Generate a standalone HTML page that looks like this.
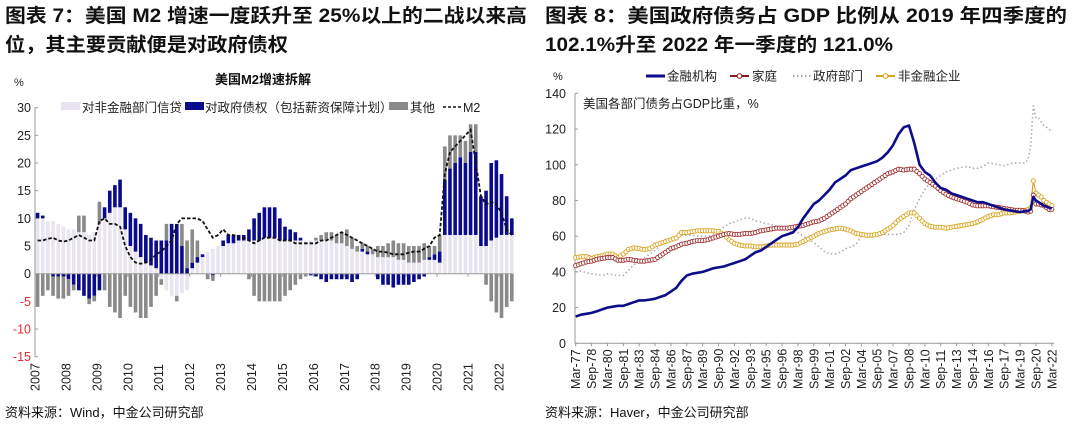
<!DOCTYPE html>
<html><head><meta charset="utf-8">
<style>
html,body{margin:0;padding:0;background:#fff;}
svg{display:block;font-family:"Liberation Sans","Noto Sans CJK SC",sans-serif;}
</style></head>
<body>
<svg id="c" width="1080" height="425" viewBox="0 0 1080 425" xmlns="http://www.w3.org/2000/svg">
<g font-weight="bold" font-size="19" fill="#111">
<text x="5" y="22" textLength="522" lengthAdjust="spacingAndGlyphs">图表 7：美国 M2 增速一度跃升至 25%以上的二战以来高</text>
<text x="5" y="51" textLength="283" lengthAdjust="spacingAndGlyphs">位，其主要贡献便是对政府债权</text>
<text x="545" y="22" textLength="522" lengthAdjust="spacingAndGlyphs">图表 8：美国政府债务占 GDP 比例从 2019 年四季度的</text>
<text x="545" y="51" textLength="348" lengthAdjust="spacingAndGlyphs">102.1%升至 2022 年一季度的 121.0%</text>
</g>
<text x="5" y="417" font-size="13" fill="#111">资料来源：Wind，中金公司研究部</text>
<text x="545" y="417" font-size="13" fill="#111">资料来源：Haver，中金公司研究部</text>
<g id="left"></g>
<g id="right"></g>
</svg>
<script>
// ---------- Left chart data (bimonthly, Jan 2007 .. May 2022) ----------
const m2Years = ["2007","2008","2009","2010","2011","2012","2013","2014","2015","2016","2017","2018","2019","2020","2021","2022"];
const m2Ticks = [30,25,20,15,10,5,0,-5,-10,-15];
const creditVals = [10,10,9.5,9.5,9,8.5, 8,8,7.5,7.5,7,7.5, 9,10,11,12,12,8, 5,4,3,2,1.5,1, -1,-3,-4,-4,-3.5,-3, 1,2,3,4,4.5,5, 5,5.5,5.5,6,6,6, 6,6,6.5,6.5,6.5,6, 6,6,6,6,6,6, 6,6,6,6,5.5,5.5, 5,4.5,4,4,3.5,3.5, 3,3,3,3,2.5,2.5, 2,2,2,2.5,2.5,2.5, 2,7,7,7,7,7, 7,7,5,5,6,6.5, 7,7,7];
const govVals = [1,0.5,0,-0.5,-0.5,-0.5, -1,-2,-3,-4,-4.5,-4, -3,2,4,4,5,4, 6,6,6,5,5,5, 6,6,9,9,5,1, 1,1,0.5,0,-0.3,0, 1,1.5,1.5,1,1,2, 4,5,5.5,5.5,5.5,4, 2.5,2,1.5,0.5,0,-0.3, -0.5,-1,-1.5,-1,-1,-1, -1,-1.5,-1,0.5,0.5,0, -1,-2,-2,-2.5,-2,-2, -2,-1.5,-1,-0.5,0.5,1, 2,10,12,13,14,13, 15,15,9,10,14,14, 11,7,3];
const otherVals = [-6,-4,-3,-3.5,-4,-4, -3,-1,3,3,-1,-1, 4,-3,-6,-7,-8,-4, -6,-7,-8,-8,-6,-4, -1,3,0,-1,4,5, 6,3,0,-1,-1,0, 0,0,0,0,0,-1, -4,-5,-5,-5,-5,-5, -4,-3,-2,-1,-0.5,0, 0.5,1,1.5,1.5,1.5,2, 3,2,1,1,1,1, 2,2,2.5,3,3,3, 3,3,3,3,2,1.5, 3,6,6,5,4,4, 5,5,0,-2,-5,-7, -8,-6,-5];
const m2Vals = [6,6,6.3,6.5,6,5.8, 6,6.5,7,6.5,6,6, 9.5,10,9,9,8.5,5, 3,2,1.8,2,2.5,3.5, 4,5,6,9,10,10, 10,10,9.5,8,6.5,7, 8,7,7,6.5,6.5,6, 5.5,6,6.5,6.5,6.5,6, 6,6,5.5,5.5,5.5,5.5, 5.5,6,6,6.5,7,7.5, 7,6.5,6,5.5,5,4.5, 4,4,3.8,3.5,3.5,3.5, 3.8,4,4,4.5,5,6.5, 7,18,22,23,24,25, 26,20,14,12.5,13,12.5, 11,8,7];

// ---------- Right chart data (Mar-77 .. Sep-19 semiannual, then quarterly to Mar-22) ----------
const debtXLabels = ["Mar-77","Sep-78","Mar-80","Sep-81","Mar-83","Sep-84","Mar-86","Sep-87","Mar-89","Sep-90","Mar-92","Sep-93","Mar-95","Sep-96","Mar-98","Sep-99","Mar-01","Sep-02","Mar-04","Sep-05","Mar-07","Sep-08","Mar-10","Sep-11","Mar-13","Sep-14","Mar-16","Sep-17","Mar-19","Sep-20","Mar-22"];
const debtTicks = [140,120,100,80,60,40,20,0];
const finVals = [15,16,16.5,17,18,19,20,20.5,21,21,22,23,24,24,24.5,25,26,27,29,31,35,38,39,39.5,40,41,42,42.5,43,44,45,46,47,49,51,52,54,56,58,60,61,62,65,70,74,78,80,83,86,90,92,94,97,98,99,100,101,102,104,107,111,117,121,122,112,100,96,94,90,87,86,84,83,82,81,80,79,79,78,77,76,75,74.5,74,73.5,74, 74,75,82,80,79,78,77,76.5,76,75.5];
const hhVals = [43.5,44.5,45.5,46,47,47.5,48,48,46.5,46.5,47,46.5,46,46,46.5,47,49,51,53,54,55.5,56,57,57.5,57.5,58,59,60,61,61.5,61,61,61.5,61.5,62,63,63.5,64,64.5,64.5,64.5,65,65.5,66,67,68,68.5,70,72,74,76,78,81,83,85,87,89,91,93,95,96,97.5,97,97.5,97.5,95,92,90,88,85.5,83.5,82,81,80,79,77.5,77,77,77,76.5,76,75.5,75,74.5,74.5,74, 73.5,74,83,78,78,77.5,77,76,75,75];
const govDebtVals = [40,40.5,39.5,39,38.5,38,39,38.5,38,38,41,44,46,48,50,52,55,57,58,60,60.5,60.5,60.5,60,60,60,61,63,65,67,68,69,70,70,68.5,68,67,66.5,65.5,65,64,62,62,60,58,56.5,54,51.5,50,50,51,53,54,55.5,60,61,61,61,61,61,61,61,62,66,75,81,86,90,92,94,96,97,98,98.5,99,98,98,99,101,100.5,100,99.5,100.5,101,101,101, 103,110,133,126,126,124,122,121,120,118];
const corpVals = [48,48.5,48.5,47.5,48.5,49,50,50,48,50,52.5,53.5,53,52.5,53,55,56,57,58,59,62,62,62.5,63,63,63,63,62.5,61,58,56,55,54.5,54.5,54,54,54.5,55,55,55,55,55,55.5,57,58.5,60,61.5,62.5,63.5,64,64.5,64,63,61.5,61,60.5,60.5,61,62,64,66,69,71,73,73,70,67,65.5,65,65,64.5,65,65.5,66,66.5,67,68,69.5,71,72,72,73,73,73.5,74,74.5, 75,76,91,84,83,82,80,79,78,77];

const NS = "http://www.w3.org/2000/svg";
function mk(parent, tag, attrs, text){
  const el = document.createElementNS(NS, tag);
  for (const k in attrs) el.setAttribute(k, attrs[k]);
  if (text !== undefined) el.textContent = text;
  parent.appendChild(el);
  return el;
}

// ================= LEFT CHART =================
(function(){
  const g = document.getElementById('left');
  const X0 = 35, YEARW = 30.93, Y0 = 273.7, PER = 27.67/5;
  const xS = i => X0 + (i + 0.5) * YEARW / 6;
  const yS = v => Y0 - v * PER;
  let t;
  t = mk(g,'text',{x:263,y:84,'text-anchor':'middle','font-size':13,'font-weight':'bold',fill:'#111'},'美国M2增速拆解');
  
  
  t = mk(g,'text',{x:14,y:86,'font-size':11,fill:'#222'},'%');
  
  
  const lg = mk(g,'g',{});
  
  
  const items = [[61,'#e8e4f0','rect','对非金融部门信贷',82],[185,'#0a0a8c','rect','对政府债权（包括薪资保障计划）',205],[389,'#8a8a8a','rect','其他',410],[443,'#111','dash','M2',463]];
  items.forEach((it,k)=>{
    const e = mk(lg,'g',{});
    
    
    if (it[2]==='rect') mk(e,'rect',{x:it[0],y:102,width:19,height:8,fill:it[1]});
    else mk(e,'line',{x1:it[0],x2:it[0]+19,y1:107,y2:107,stroke:it[1],'stroke-width':1.5,'stroke-dasharray':'3,2'});
    mk(e,'text',{x:it[4],y:112,'font-size':12.5,fill:'#222'},it[3]);
  });
  m2Ticks.forEach(v=>{
    const y = yS(v);
    const tl = mk(g,'text',{x:31,y:y+4.5,'text-anchor':'end','font-size':12.5,fill: v<0 ? '#e0302a' : '#222'},String(v));
    
    
    mk(g,'line',{x1:35,x2:38,y1:y,y2:y,stroke:'#999','stroke-width':1});
  });
  const bars = mk(g,'g',{});
  
  
  const bw = 3.6;
  const series = [[creditVals,'#e8e4f0','credit'],[govVals,'#0a0a8c','gov-claims'],[otherVals,'#8a8a8a','other']];
  for (let i=0;i<creditVals.length;i++){
    let pos = 0, neg = 0;
    series.forEach(s=>{
      const v = s[0][i];
      let y1, y2;
      if (v >= 0){ y1 = pos; y2 = pos + v; pos = y2; }
      else { y1 = neg; y2 = neg + v; neg = y2; }
      const top = yS(Math.max(y1,y2)), bot = yS(Math.min(y1,y2));
      const r = mk(bars,'rect',{x:xS(i)-bw/2,y:top,width:bw,height:Math.max(0,bot-top),fill:s[1]});
      
      
    });
  }
  mk(g,'line',{x1:35,x2:512,y1:Y0,y2:Y0,stroke:'#999','stroke-width':1});
  mk(g,'line',{x1:35,x2:35,y1:yS(30),y2:yS(-15),stroke:'#999','stroke-width':1});
  const pts = m2Vals.map((v,i)=>xS(i).toFixed(1)+','+yS(v).toFixed(1)).join(' ');
  const pl = mk(g,'polyline',{points:pts,fill:'none',stroke:'#111','stroke-width':1.8,'stroke-dasharray':'3.5,2'});
  
  
  m2Years.forEach((yr,k)=>{
    const x = X0 + k*YEARW;
    mk(g,'line',{x1:x,x2:x,y1:Y0,y2:Y0+3,stroke:'#999'});
    const tl = mk(g,'text',{x:0,y:0,transform:`translate(${x+4.5},391) rotate(-90)`,'font-size':12.5,fill:'#222'},yr);
    
    
  });
})();

// ================= RIGHT CHART =================
(function(){
  const g = document.getElementById('right');
  const X0 = 575.7, PY = 10.58, Y0 = 343.3, PER = 35.71/20;
  const tVals = [];
  for (let i=0;i<86;i++) tVals.push(i*0.5);
  for (let i=0;i<10;i++) tVals.push(42.75 + i*0.25);
  const xS = tt => X0 + tt*PY;
  const yS = v => Y0 - v*PER;
  let t;
  t = mk(g,'text',{x:553,y:80,'font-size':11,fill:'#222'},'%');
  
  
  t = mk(g,'text',{x:583,y:108,'font-size':12.5,fill:'#222'},'美国各部门债务占GDP比重，%');
  
  
  const lg = mk(g,'g',{});
  
  
  const li = [[646,'#0d0d8a','solid','金融机构',667],[730,'#8b1a1a','ring','家庭',752],[793,'#aaa','dot','政府部门',813],[876,'#d9a520','ring','非金融企业',898]];
  li.forEach((it,k)=>{
    const e = mk(lg,'g',{});
    
    
    const a = {x1:it[0],x2:it[0]+19,y1:76,y2:76,stroke:it[1],'stroke-width':it[2]==='solid'?3:2};
    if (it[2]==='dot') a['stroke-dasharray']='1.5,2.5';
    mk(e,'line',a);
    if (it[2]==='ring') mk(e,'circle',{cx:it[0]+9.5,cy:76,r:2.3,fill:'#fff',stroke:it[1],'stroke-width':1});
    mk(e,'text',{x:it[4],y:80.5,'font-size':12.5,fill:'#222'},it[3]);
  });
  debtTicks.forEach(v=>{
    const y = yS(v);
    const tl = mk(g,'text',{x:566,y:y+4.5,'text-anchor':'end','font-size':12.5,fill:'#222'},String(v));
    
    
    mk(g,'line',{x1:575,x2:578,y1:y,y2:y,stroke:'#999'});
  });
  mk(g,'line',{x1:575,x2:575,y1:yS(140),y2:Y0,stroke:'#999'});
  mk(g,'line',{x1:575,x2:1054,y1:Y0,y2:Y0,stroke:'#999'});
  function line(vals,color,w,name,dash,ring){
    const pts = vals.map((v,i)=>xS(tVals[i]).toFixed(1)+','+yS(v).toFixed(1)).join(' ');
    const a = {points:pts,fill:'none',stroke:color,'stroke-width':w,'stroke-linejoin':'round'};
    if (dash) a['stroke-dasharray']=dash;
    const pl = mk(g,'polyline',a);
    
    
    if (ring){
      const mg = mk(g,'g',{});
      
      
      vals.forEach((v,i)=>{
        mk(mg,'circle',{cx:xS(tVals[i]),cy:yS(v),r:2.1,fill:'#fff',stroke:color,'stroke-width':0.9});
        if (i<vals.length-1 && tVals[i+1]-tVals[i]>0.3){
          const mv=(v+vals[i+1])/2;
          mk(mg,'circle',{cx:xS(tVals[i]+0.25),cy:yS(mv),r:2.1,fill:'#fff',stroke:color,'stroke-width':0.9});
        }
      });
    }
  }
  line(govDebtVals,'#aaa',1.5,'gov-debt-line','1.5,2.5',false);
  line(corpVals,'#d9a520',1.2,'nonfin-corp-line',null,true);
  line(hhVals,'#a03030',1.2,'household-line',null,true);
  line(finVals,'#0d0d8a',2.6,'financial-line',null,false);
  debtXLabels.forEach((lab,k)=>{
    const x = xS(k*1.5);
    mk(g,'line',{x1:x,x2:x,y1:Y0,y2:Y0+3,stroke:'#999'});
    const tl = mk(g,'text',{x:0,y:0,transform:`translate(${x+4.5},389) rotate(-90)`,'font-size':12.5,fill:'#222'},lab);
    
    
  });
})();
</script>
</body></html>
